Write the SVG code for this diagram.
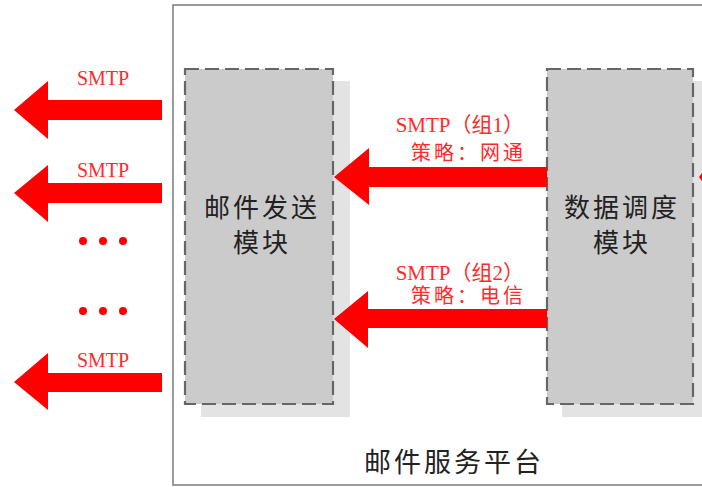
<svg xmlns="http://www.w3.org/2000/svg" width="702" height="487" viewBox="0 0 702 487">
<style>
.shadow{fill:#e3e3e3}
.box{fill:#cbcbcb;stroke:#666;stroke-width:2.2;stroke-dasharray:14,6}
.arrow{fill:#ff0000}
.lbl{font-family:"Liberation Serif","Noto Sans CJK SC",serif;font-size:20px;fill:#ff2a2a}
.mid{font-size:21px}
.cn{letter-spacing:3px}
.node{font-family:"Noto Sans CJK SC","Liberation Sans",sans-serif;font-size:26px;fill:#222;text-anchor:middle;letter-spacing:3px}
.plat{font-family:"Noto Sans CJK SC","Liberation Sans",sans-serif;font-size:27px;fill:#222;text-anchor:middle;letter-spacing:3px}
.dot{fill:#ff0000}
</style>
<rect width="702" height="487" fill="#fff"/>
<g id="platform">
<rect x="173" y="5" width="540" height="480" fill="#fff" stroke="#7a7a7a" stroke-width="1.5"/>
<text class="plat" x="454" y="472">邮件服务平台</text>
</g>
<g id="send-module">
<rect class="shadow" x="201" y="81" width="149" height="336"/>
<rect class="box" x="185" y="69" width="148" height="335"/>
<text class="node" x="262" y="217">邮件发送</text>
<text class="node" x="262" y="252">模块</text>
</g>
<g id="dispatch-module">
<rect class="shadow" x="562" y="81" width="150" height="336"/>
<rect class="box" x="547" y="69" width="146" height="335"/>
<text class="node" x="622" y="217">数据调度</text>
<text class="node" x="622" y="252">模块</text>
</g>
<g id="connectors">
<polygon class="arrow" points="162,100 48,100 48,81 14,110 48,139 48,120 162,120"/>
<polygon class="arrow" points="162,183 48,183 48,165 14,193 48,222 48,203 162,203"/>
<polygon class="arrow" points="162,373 48,373 48,353 14,382 48,410 48,392 162,392"/>
<polygon class="arrow" points="547,167 369,167 369,148 334,177 369,205 369,187 547,187"/>
<polygon class="arrow" points="547,309 368,309 368,291 334,319 368,348 368,328 547,328"/>
<polygon class="arrow" points="702,173 699,177 702,181"/>
</g>
<g id="labels">
<text class="lbl" x="103" y="85" text-anchor="middle">SMTP</text>
<text class="lbl" x="103" y="177" text-anchor="middle">SMTP</text>
<text class="lbl" x="103" y="367" text-anchor="middle">SMTP</text>
<text class="lbl mid" x="524" y="132" text-anchor="end">SMTP（组1）</text>
<text class="lbl cn" x="526" y="160" text-anchor="end">策略：网通</text>
<text class="lbl mid" x="524" y="280" text-anchor="end">SMTP（组2）</text>
<text class="lbl cn" x="526" y="303" text-anchor="end">策略：电信</text>
</g>
<g id="ellipsis">
<circle class="dot" cx="83" cy="241" r="4"/>
<circle class="dot" cx="103" cy="241" r="4"/>
<circle class="dot" cx="123" cy="241" r="4"/>
<circle class="dot" cx="83" cy="311" r="4"/>
<circle class="dot" cx="103" cy="311" r="4"/>
<circle class="dot" cx="123" cy="311" r="4"/>
</g>
</svg>
